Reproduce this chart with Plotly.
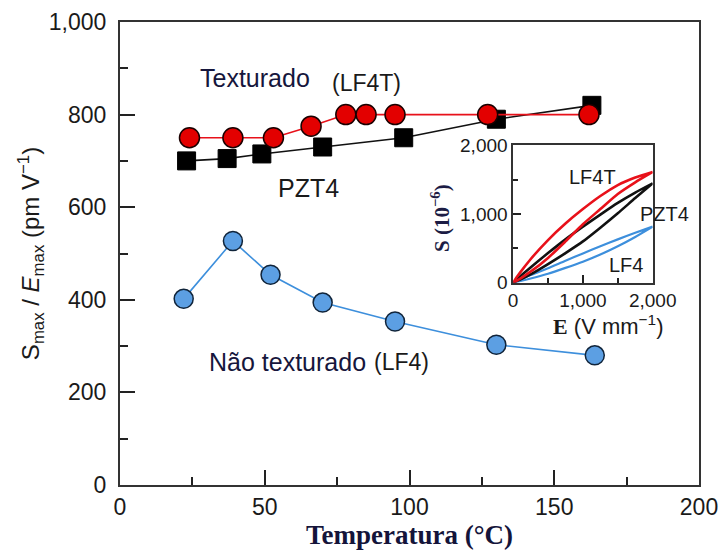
import plotly.graph_objects as go

# ---- main chart data ----
temp_lf4t = [24, 39, 53, 66, 78, 85, 95, 127, 162]
val_lf4t = [750, 750, 750, 775, 800, 800, 800, 800, 800]
temp_pzt4 = [23, 37, 49, 70, 98, 130, 163]
val_pzt4 = [700, 705, 715, 730, 750, 790, 820]
temp_lf4 = [22, 39, 52, 70, 95, 130, 164]
val_lf4 = [402, 527, 454, 394, 353, 303, 280]

# ---- inset: strain loops ----
field = [0, 250, 500, 750, 1000, 1250, 1500, 1750, 2000]
lf4t_up = [0, 340, 620, 860, 1070, 1260, 1420, 1530, 1610]
lf4t_lo = [0, 160, 360, 600, 850, 1070, 1290, 1460, 1610]
pzt4_up = [0, 220, 430, 630, 815, 990, 1160, 1310, 1445]
pzt4_lo = [0, 120, 270, 430, 600, 800, 1010, 1230, 1445]
lf4_up = [0, 110, 210, 320, 425, 530, 630, 725, 815]
lf4_lo = [0, 60, 130, 215, 305, 410, 530, 665, 815]

main_ticks = [0, 200, 400, 600, 800, 1000]
main_xticks = [0, 50, 100, 150, 200]

RED = "#e8111a"
BLUE = "#3d8fdc"
BLUE_FILL = "#5c9fe3"
SANS = "Liberation Sans, Arial, sans-serif"
SERIF = "Liberation Serif, Times New Roman, serif"

fig = go.Figure()

fig.add_trace(go.Scatter(x=temp_pzt4, y=val_pzt4, mode="lines+markers",
                         line=dict(color="#111111", width=1.6),
                         marker=dict(symbol="square", size=18, color="#000000",
                                     line=dict(color="#000000", width=1)),
                         showlegend=False))
fig.add_trace(go.Scatter(x=temp_lf4t, y=val_lf4t, mode="lines+markers",
                         line=dict(color=RED, width=1.6),
                         marker=dict(symbol="circle", size=20, color="#e30000",
                                     line=dict(color="#1a0000", width=1.5)),
                         showlegend=False))
fig.add_trace(go.Scatter(x=temp_lf4, y=val_lf4, mode="lines+markers",
                         line=dict(color=BLUE, width=1.6),
                         marker=dict(symbol="circle", size=19, color=BLUE_FILL,
                                     line=dict(color="#10243a", width=1.5)),
                         showlegend=False))

# inset loops
for up, lo, col, w in [(lf4_up, lf4_lo, BLUE, 2.2),
                       (pzt4_up, pzt4_lo, "#111111", 2.6),
                       (lf4t_up, lf4t_lo, RED, 2.6)]:
    fig.add_trace(go.Scatter(x=field + field[::-1], y=lo + up[::-1],
                             mode="lines", line=dict(color=col, width=w, shape="spline", smoothing=0.6),
                             xaxis="x2", yaxis="y2", showlegend=False))

axis_line = dict(showline=True, linecolor="#333333", linewidth=2, mirror=True,
                 showgrid=False, zeroline=False, ticks="inside",
                 tickcolor="#222222", tickwidth=2, automargin=False)

fig.update_layout(
    width=722, height=555,
    margin=dict(l=120, r=23, t=22, b=70),
    paper_bgcolor="white", plot_bgcolor="white",
    font=dict(family=SANS, size=23, color="#1a1a1a"),
    xaxis=dict(range=[0, 200], tickvals=main_xticks, ticklen=15,
               minor=dict(ticks="inside", ticklen=8, dtick=25, tickcolor="#222222", tickwidth=2),
               tickfont=dict(size=23, color="#1a1a1a"),
               title=dict(text="Temperatura (°C)",
                          font=dict(family=SERIF, size=27, color="#14143a", weight="bold"),
                          standoff=6),
               **axis_line),
    yaxis=dict(range=[0, 1000], tickvals=main_ticks, tickformat=",", ticklen=15,
               minor=dict(ticks="inside", ticklen=8, dtick=100, tickcolor="#222222", tickwidth=2),
               tickfont=dict(size=23, color="#1a1a1a"),
               ticklabelstandoff=7,
               title=dict(text="S<sub>max</sub> / <i>E</i><sub>max</sub> (pm V<sup>−1</sup>)",
                          font=dict(family=SANS, size=24, color="#1a1a1a"),
                          standoff=2),
               **axis_line),
    xaxis2=dict(domain=[0.679, 0.920], anchor="y2", range=[0, 2000],
                tickvals=[0, 1000, 2000], tickformat=",", ticklen=8,
                minor=dict(ticks="inside", ticklen=5, dtick=500, tickcolor="#222222", tickwidth=1.5),
                tickfont=dict(size=19, color="#1a1a1a"),
                **{**axis_line, "linewidth": 1.5, "tickwidth": 1.5}),
    yaxis2=dict(domain=[0.437, 0.734], anchor="x2", range=[0, 2000],
                tickvals=[0, 1000, 2000], tickformat=",", ticklen=8,
                minor=dict(ticks="inside", ticklen=5, dtick=500, tickcolor="#222222", tickwidth=1.5),
                tickfont=dict(size=19, color="#1a1a1a"),
                **{**axis_line, "linewidth": 1.5, "tickwidth": 1.5}),
)

def note(text, x, y, size=25, color="#1a1a1a", family=SANS, xanchor="left", ref="x"):
    fig.add_annotation(text=text, x=x, y=y, xref=ref, yref="y" if ref == "x" else "y2",
                       showarrow=False, xanchor=xanchor, yanchor="middle",
                       font=dict(size=size, color=color, family=family))

note("Texturado", 27.0, 879, color="#16163c")
note("(LF4T)", 72.5, 868, size=23)
note("PZT4", 54.0, 641)
note("Não texturado", 30.0, 265, color="#16163c")
note("(LF4)", 87.0, 265, size=23)

note("LF4T", 770, 1534, size=20, ref="x2")
note("PZT4", 1790, 997, size=20, ref="x2")
note("LF4", 1345, 257, size=20, ref="x2")

fig.add_annotation(text="<b>S (10<sup>−6</sup>)</b>", xref="paper", yref="paper",
                   x=(440 - 120) / 579, y=(485 - 218) / 463, textangle=-90,
                   showarrow=False, xanchor="center", yanchor="middle",
                   font=dict(size=21, color="#1c1c44", family=SERIF))
fig.add_annotation(text="<span style='font-family:Liberation Serif'><b>E</b></span> (V mm<sup>−1</sup>)",
                   xref="paper", yref="paper",
                   x=(551 - 120) / 579, y=(485 - 325) / 463,
                   showarrow=False, xanchor="left", yanchor="middle",
                   font=dict(size=22, color="#1a1a1a", family=SANS))

fig.write_html("out.html")
